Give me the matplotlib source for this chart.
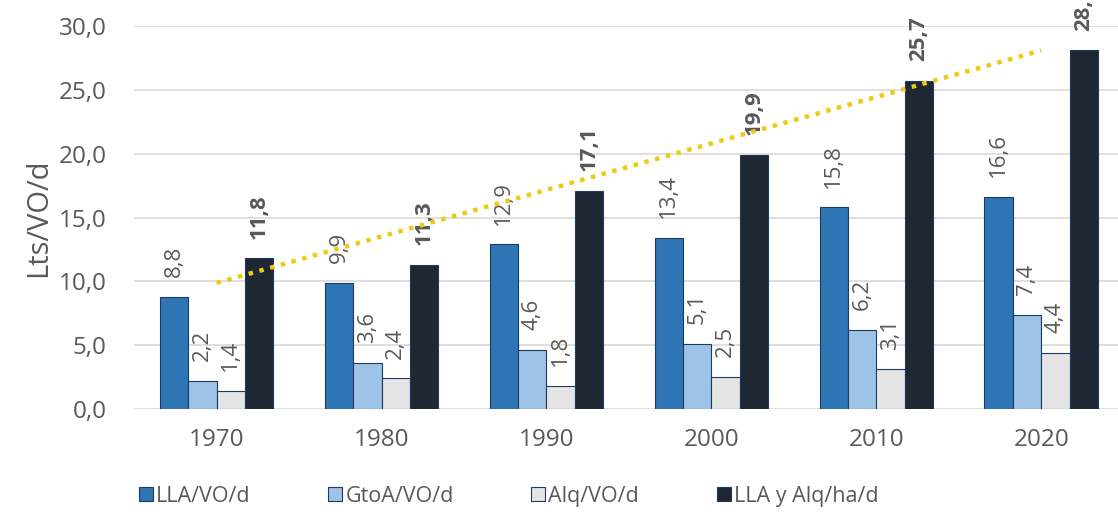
import numpy as np
import matplotlib
matplotlib.use('Agg')
import matplotlib.pyplot as plt
from matplotlib.ticker import FuncFormatter

plt.rcParams['font.family'] = ['Open Sans', 'DejaVu Sans']

years = ['1970', '1980', '1990', '2000', '2010', '2020']
lla_vo = [8.8, 9.9, 12.9, 13.4, 15.8, 16.6]
gtoa_vo = [2.2, 3.6, 4.6, 5.1, 6.2, 7.4]
alq_vo = [1.4, 2.4, 1.8, 2.5, 3.1, 4.4]
lla_alq_ha = [11.8, 11.3, 17.1, 19.9, 25.7, 28.1]

series = [
    ('LLA/VO/d', lla_vo, '#2E75B6', False),
    ('GtoA/VO/d', gtoa_vo, '#9DC3E6', False),
    ('Alq/VO/d', alq_vo, '#E4E4E4', False),
    ('LLA y Alq/ha/d', lla_alq_ha, '#1F2733', True),
]

fig = plt.figure(figsize=(11.18, 5.21), dpi=100)
ax = fig.add_axes([0.12, 0.215, 0.885, 0.735])

x = np.arange(len(years))
w = 0.172
offsets = (np.arange(4) - 1.5) * w
text_col = '#595959'

for (name, vals, col, bold), off in zip(series, offsets):
    bars = ax.bar(x + off, vals, w, color=col, edgecolor='#1F3864',
                  linewidth=0.8, label=name, zorder=3)
    for b, v in zip(bars, vals):
        ax.text(b.get_x() + b.get_width() / 2, v + 1.55,
                f'{v:.1f}'.replace('.', ','), rotation=90,
                ha='center', va='bottom', fontsize=16, color=text_col,
                fontweight='bold' if bold else 'normal', clip_on=False,
                zorder=5)

# linear trend of the per-hectare series
coef = np.polyfit(x, lla_alq_ha, 1)
ax.plot(x, np.polyval(coef, x), linestyle=(0, (1, 1.5)), color='#EBCB14',
        linewidth=3.2, zorder=6)

ax.set_xlim(-0.5, 5.5)
ax.set_ylim(0, 30)
ax.set_yticks(np.arange(0, 31, 5))
ax.yaxis.set_major_formatter(FuncFormatter(lambda v, p: f'{v:.1f}'.replace('.', ',')))
ax.set_xticks(x)
ax.set_xticklabels(years)
ax.tick_params(length=0, labelsize=17.5, colors=text_col)
ax.tick_params(axis='x', pad=14)
ax.tick_params(axis='y', pad=20)
ax.grid(axis='y', color='#D9D9D9', linewidth=1.2, zorder=0)
for s in ax.spines.values():
    s.set_visible(False)
ax.set_ylabel('Lts/VO/d', fontsize=21, color=text_col, labelpad=4)

fig.legend(loc='lower center', bbox_to_anchor=(0.455, -0.01), ncol=4,
           frameon=False, fontsize=15.5, handlelength=0.65, handleheight=0.65,
           handletextpad=0.15, columnspacing=3.6, labelcolor=text_col)

fig.savefig('out.png', dpi=100)
